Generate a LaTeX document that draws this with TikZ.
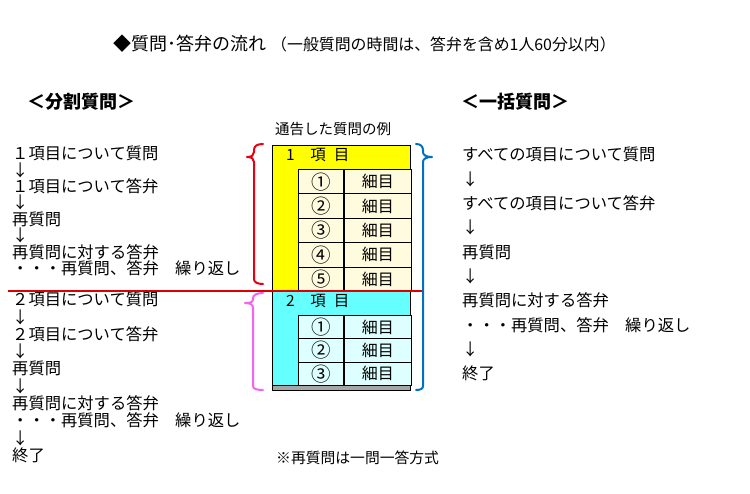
\documentclass[tikz,border=0pt]{standalone}
\usepackage{fontspec}
\setmainfont{Noto Sans CJK JP}
\usetikzlibrary{positioning}

\definecolor{yellowA}{RGB}{255,255,0}
\definecolor{creamA}{RGB}{255,251,222}
\definecolor{cyanB}{RGB}{102,255,255}
\definecolor{paleB}{RGB}{222,255,255}
\definecolor{braceRed}{RGB}{230,0,18}
\definecolor{braceBlue}{RGB}{0,112,192}
\definecolor{bracePink}{RGB}{245,100,240}
\definecolor{cutRed}{RGB}{220,0,0}

\begin{document}
\begin{tikzpicture}
[x=1pt, y=-1pt,
 line/.style = {anchor=west, inner sep=0pt, text height=0.88em, text depth=0.12em,
                font=\fontsize{16.3}{16.3}\selectfont},
 heading/.style = {line, font=\fontsize{18}{18}\selectfont\bfseries},
 small/.style = {line, font=\fontsize{14.5}{14.5}\selectfont},
 block/.style = {draw, line width=0.9pt, anchor=north west, inner sep=0pt, minimum width=138pt},
 cell/.style = {draw, line width=0.9pt, anchor=north west, inner sep=0pt,
                font=\fontsize{16}{16}\selectfont},
 numcell/.style = {cell, font=\fontsize{19.5}{19.5}\selectfont},
 brace/.style = {line width=2pt, line cap=round, line join=round}]
\useasboundingbox (0,0) rectangle (750,494);

% title
\node [line] (title) at (113,47)
  {{\fontsize{18}{18}\selectfont ◆質問･答弁の流れ}\hspace{5pt}{\fontsize{15.9}{15.9}\selectfont （一般質問の時間は、答弁を含め1人60分以内）}};
\node [heading] (headL) at (27,105) {＜分割質問＞};
\node [heading] (headR) at (461,105) {＜一括質問＞};

% left column
\foreach \t [count=\i] in {１項目について質問, ↓, １項目について答弁, ↓, 再質問, ↓,
                           再質問に対する答弁, ・・・再質問、答弁　繰り返し}{
	\node [line] (leftA\i) at (12, {156+(\i-1)*16.4}) {\t};
}
\foreach \t [count=\i] in {２項目について質問, ↓, ２項目について答弁, ↓, 再質問, ↓,
                           再質問に対する答弁, ・・・再質問、答弁　繰り返し, ↓, 終了}{
	\node [line] (leftB\i) at (12, {302+(\i-1)*17.3}) {\t};
}

% right column
\foreach \t [count=\i] in {すべての項目について質問, ↓, すべての項目について答弁, ↓, 再質問, ↓,
                           再質問に対する答弁, ・・・再質問、答弁　繰り返し, ↓, 終了}{
	\node [line] (right\i) at (462, {157+(\i-1)*24.35}) {\t};
}

% table
\node [small] (caption) at (275,131) {通告した質問の例};
\node [block, fill=yellowA, minimum height=146pt] (blockA) at (272,145) {};
\node [block, fill=cyanB, minimum height=99pt] (blockB) at (272,291) {};
\draw [line width=0.9pt, fill=black!35] (blockB.south west) ++(0,-5) rectangle (blockB.south east);

\node [line, font=\fontsize{15.5}{15.5}\selectfont] (hdrA) at (286,157) {1　項\hspace{8pt}目};
\node [line, font=\fontsize{15.5}{15.5}\selectfont] (hdrB) at (286,303) {2　項\hspace{8pt}目};

\foreach \c [count=\i] in {①,②,③,④,⑤}{
	\node [numcell, fill=creamA, minimum width=45pt, minimum height=24.4pt] (numA\i) at (298, {169+(\i-1)*24.4}) {\c};
	\node [cell, fill=creamA, minimum width=67pt, minimum height=24.4pt] (itemA\i) at (numA\i.north east) {細目};
}
\foreach \c [count=\i] in {①,②,③}{
	\node [numcell, fill=paleB, minimum width=45pt, minimum height=23.3pt] (numB\i) at (298, {315+(\i-1)*23.3}) {\c};
	\node [cell, fill=paleB, minimum width=67pt, minimum height=23.3pt] (itemB\i) at (numB\i.north east) {細目};
}

% separator
\draw [cutRed, line width=1.2pt] (8,291) -- (422,291);

% braces
\draw [brace, braceRed] (263,144) .. controls (257,144) and (254,146) .. (254,150) -- (254,152)
  .. controls (254,155) and (252,157) .. (247,157) .. controls (252,157) and (254,159) .. (254,162)
  -- (254,279) .. controls (254,282) and (257,284) .. (263,284);
\draw [brace, bracePink] (263,293) .. controls (257,293) and (253,295) .. (253,298) -- (253,299)
  .. controls (253,302) and (251,303) .. (245,303) .. controls (251,303) and (253,305) .. (253,308)
  -- (253,386) .. controls (253,389) and (257,390) .. (263,390);
\draw [brace, braceBlue] (416,144) .. controls (420,144) and (423,146) .. (423,150) -- (423,152)
  .. controls (423,155) and (426,157) .. (432,157) .. controls (426,157) and (423,159) .. (423,162)
  -- (423,386) .. controls (423,389) and (420,390) .. (416,390);

\node [small, font=\fontsize{14.8}{14.8}\selectfont] (note) at (276,460) {※再質問は一問一答方式};
\end{tikzpicture}
\end{document}
